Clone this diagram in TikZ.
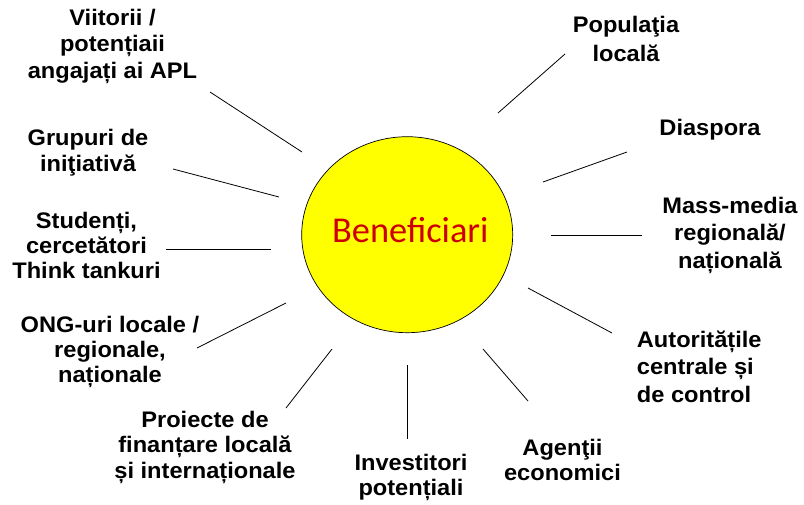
\documentclass[tikz,border=0pt]{standalone}
\usepackage{fontspec}
\usetikzlibrary{shapes.geometric}
\newfontfamily\lblfont{Liberation Sans}[FakeStretch=1.05]
\newfontfamily\benfont{Carlito}
\definecolor{benred}{RGB}{204,0,0}
\definecolor{sunyellow}{RGB}{255,255,0}
\newcommand\lblC[2]{\fontsize{22.5}{#1}\selectfont\begin{tabular}[t]{@{}c@{}}#2\end{tabular}}
\newcommand\lblL[2]{\fontsize{22.5}{#1}\selectfont\begin{tabular}[t]{@{}l@{}}#2\end{tabular}}
\tikzset{
  lab/.style={font=\lblfont\bfseries, inner sep=0pt, anchor=base, text=black},
  ray/.style={draw=black, line width=0.8pt},
  sun/.style={ellipse, draw=black, line width=0.7pt, fill=sunyellow, minimum width=211pt, minimum height=196pt, inner sep=0pt}
}
\begin{document}
\begin{tikzpicture}[x=1pt,y=-1pt]
\useasboundingbox (0,0) rectangle (804,504);
\node[sun] (sun) at (407.2,234.7) {};
\node[inner sep=0pt, anchor=base, text=benred, font=\benfont\fontsize{36.4}{40}\selectfont] (ben) at (410.3,242.7) {Beneficiari};

% labels
\node[lab] (viit) at (112.5,25) {\lblC{26.5}{Viitorii /\\potențiaii\\angajați ai APL}};
\node[lab] (grup) at (88,145) {\lblC{26}{Grupuri de\\iniţiativă}};
\node[lab] (stud) at (86.5,228) {\lblC{25}{Studenți,\\cercetători\\Think tankuri}};
\node[lab] (ong) at (110,332) {\lblC{25}{ONG-uri locale /\\regionale,\\naționale}};
\node[lab] (proi) at (205,427) {\lblC{25.5}{Proiecte de\\finanțare locală\\și internaționale}};
\node[lab] (inv) at (411,470) {\lblC{25}{Investitori\\potențiali}};
\node[lab] (agen) at (562.5,455) {\lblC{25}{Agenţii\\economici}};
\node[lab, anchor=base west] (aut) at (636.7,347) {\lblL{27.5}{Autoritățile\\centrale și\\de control}};
\node[lab] (mass) at (730,213) {\lblC{27.5}{Mass-media\\regională/\\națională}};
\node[lab] (diasp) at (710,135) {\lblC{25}{Diaspora}};
\node[lab] (pop) at (626,32) {\lblC{29}{Populaţia\\locală}};

% ray end points
\coordinate (viitA) at (302,152);  \coordinate (viitB) at (210,92);
\coordinate (grupA) at (279,197);  \coordinate (grupB) at (173,169);
\coordinate (studA) at (271,249);  \coordinate (studB) at (166,249);
\coordinate (ongA) at (286,303);   \coordinate (ongB) at (197,348);
\coordinate (proiA) at (332,349);  \coordinate (proiB) at (286,408);
\coordinate (invA) at (407,365);   \coordinate (invB) at (407,439);
\coordinate (agenA) at (483,349);  \coordinate (agenB) at (528,401);
\coordinate (autA) at (528,288);   \coordinate (autB) at (612,333);
\coordinate (massA) at (551,235);  \coordinate (massB) at (642,235);
\coordinate (diaspA) at (543,182); \coordinate (diaspB) at (627,152);
\coordinate (popA) at (498,113);   \coordinate (popB) at (565,54);

\foreach \n in {viit,grup,stud,ong,proi,inv,agen,aut,mass,diasp,pop}
  \draw[ray] (\n A) -- (\n B);
\end{tikzpicture}
\end{document}
